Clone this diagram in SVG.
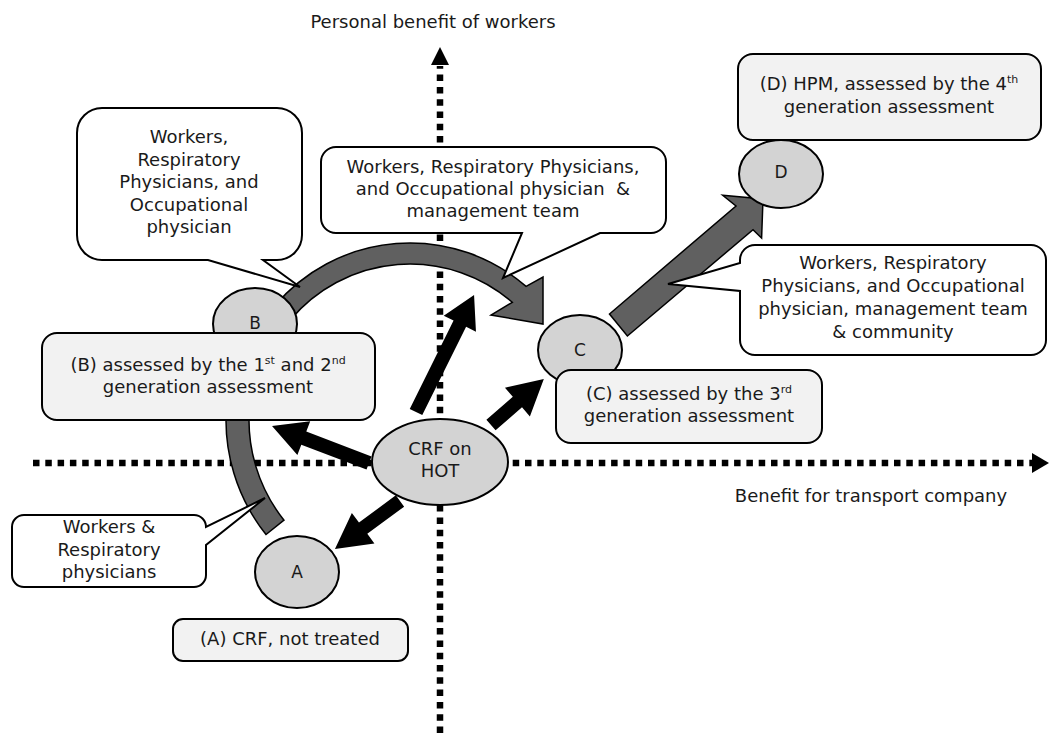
<svg xmlns="http://www.w3.org/2000/svg" width="1050" height="733" viewBox="0 0 1050 733">
<style>
text{font-family:"DejaVu Sans",Verdana,sans-serif;font-size:18px;fill:#1a1a1a;text-anchor:middle}
.lbl{font-size:17px}
.sup{font-size:11px}
.ell{fill:#d3d3d3;stroke:#000;stroke-width:2}
.box{fill:#f2f2f2;stroke:#000;stroke-width:2}
.call{fill:#fff;stroke:#000;stroke-width:2;stroke-linejoin:miter}
.axis{stroke:#000;stroke-width:6.5;stroke-dasharray:6.5 5.8;fill:none}
.ahead{fill:#000}
.garrow{fill:#606060;stroke:#000;stroke-width:1.5;stroke-linejoin:miter}
.barrow{fill:#000}
</style>
<rect width="1050" height="733" fill="#fff"/>
<g id="connectors">
  <line class="axis" x1="33" y1="463" x2="1034" y2="463"/>
  <polygon class="ahead" points="1049,463 1032,453 1032,473"/>
  <line class="axis" x1="440" y1="733" x2="440" y2="66"/>
  <polygon class="ahead" points="440,47 431,65 449,65"/>
  <path id="arc-b-c" class="garrow" d="M274.4,306.2 A177 177 0 0 1 526.1,286.4 L543,277 L543,324 L491,315 L512.3,302.3 A156 156 0 0 0 290.5,319.7 Z"/>
  <path id="arc-a-b" class="garrow" d="M226.7,404 A184 184 0 0 0 266,534.5 L284,520.2 A161 161 0 0 1 249.6,406 Z"/>
  <polygon id="arrow-c-d" class="garrow" points="609.5,314 736,206 722.7,195.3 763,199 761.6,238 753,229.7 627.4,336"/>
  <polygon id="crf-up" class="barrow" transform="translate(416,412) rotate(-63.6)" points="0,-7 98.6,-7 98.6,-18 130.6,0 98.6,18 98.6,7 0,7"/>
  <polygon id="crf-c" class="barrow" transform="translate(491,425) rotate(-41)" points="0,-7 35,-7 35,-19 70,0 35,19 35,7 0,7"/>
  <polygon id="crf-b" class="barrow" transform="translate(369,463) rotate(200.9)" points="0,-7 69.8,-7 69.8,-18 103.8,0 69.8,18 69.8,7 0,7"/>
  <polygon id="crf-a" class="barrow" transform="translate(400,501) rotate(143.6)" points="0,-7 45.8,-7 45.8,-19 80.8,0 45.8,19 45.8,7 0,7"/>
</g>
<g id="node-crf">
  <ellipse class="ell" cx="440" cy="462" rx="68" ry="43"/>
  <text x="440" y="455">CRF on</text>
  <text x="440" y="477">HOT</text>
</g>
<g id="node-a">
  <ellipse class="ell" cx="297" cy="572" rx="42" ry="36"/>
  <text class="lbl" x="297" y="578">A</text>
</g>
<g id="node-b">
  <ellipse class="ell" cx="255" cy="324" rx="42" ry="36"/>
  <text class="lbl" x="255" y="329">B</text>
</g>
<g id="node-c">
  <ellipse class="ell" cx="580" cy="350" rx="42" ry="35"/>
  <text class="lbl" x="580" y="356">C</text>
</g>
<g id="node-d">
  <ellipse class="ell" cx="781" cy="174" rx="42" ry="34"/>
  <text class="lbl" x="781" y="178">D</text>
</g>
<g id="box-a">
  <rect class="box" x="173" y="619" width="235" height="42" rx="10"/>
  <text x="290" y="645">(A) CRF, not treated</text>
</g>
<g id="box-b">
  <rect class="box" x="42" y="333" width="333" height="87" rx="15"/>
  <text x="208" y="371">(B) assessed by the 1<tspan class="sup" dy="-7">st</tspan><tspan dy="7"> and 2</tspan><tspan class="sup" dy="-7">nd</tspan></text>
  <text x="208" y="393">generation assessment</text>
</g>
<g id="box-c">
  <rect class="box" x="556" y="370" width="266" height="73" rx="15"/>
  <text x="689" y="400">(C) assessed by the 3<tspan class="sup" dy="-7">rd</tspan></text>
  <text x="689" y="422">generation assessment</text>
</g>
<g id="box-d">
  <rect class="box" x="738" y="54" width="303" height="86" rx="15"/>
  <text x="889" y="90">(D) HPM, assessed by the 4<tspan class="sup" dy="-7">th</tspan></text>
  <text x="889" y="113">generation assessment</text>
</g>
<g id="callout-1">
  <path class="call" d="M102,108 H277 A25 25 0 0 1 302,133 V235 A25 25 0 0 1 277,260 H263 L300,287 L208,260 H102 A25 25 0 0 1 77,235 V133 A25 25 0 0 1 102,108 Z"/>
  <text x="189" y="143">Workers,</text>
  <text x="189" y="166">Respiratory</text>
  <text x="189" y="188">Physicians, and</text>
  <text x="189" y="211">Occupational</text>
  <text x="189" y="233">physician</text>
</g>
<g id="callout-2">
  <path class="call" d="M336,147 H651 A15 15 0 0 1 666,162 V218 A15 15 0 0 1 651,233 H600 L503,278 L522,233 H336 A15 15 0 0 1 321,218 V162 A15 15 0 0 1 336,147 Z"/>
  <text x="493" y="173">Workers, Respiratory Physicians,</text>
  <text x="493" y="195">and Occupational physician&#160; &amp;</text>
  <text x="493" y="217">management team</text>
</g>
<g id="callout-3">
  <path class="call" d="M755,245 H1031 A15 15 0 0 1 1046,260 V340 A15 15 0 0 1 1031,355 H755 A15 15 0 0 1 740,340 V291 L668,284 L740,263 V260 A15 15 0 0 1 755,245 Z"/>
  <text x="893" y="269">Workers, Respiratory</text>
  <text x="893" y="292">Physicians, and Occupational</text>
  <text x="893" y="315">physician, management team</text>
  <text x="893" y="338">&amp; community</text>
</g>
<g id="callout-4">
  <path class="call" d="M24,515 H194 A12 12 0 0 1 206,527 L265,498 L206,545 V575 A12 12 0 0 1 194,587 H24 A12 12 0 0 1 12,575 V527 A12 12 0 0 1 24,515 Z"/>
  <text x="109" y="533">Workers &amp;</text>
  <text x="109" y="556">Respiratory</text>
  <text x="109" y="578">physicians</text>
</g>
<g id="axis-labels">
  <text x="433" y="28">Personal benefit of workers</text>
  <text x="871" y="502">Benefit for transport company</text>
</g>
</svg>
